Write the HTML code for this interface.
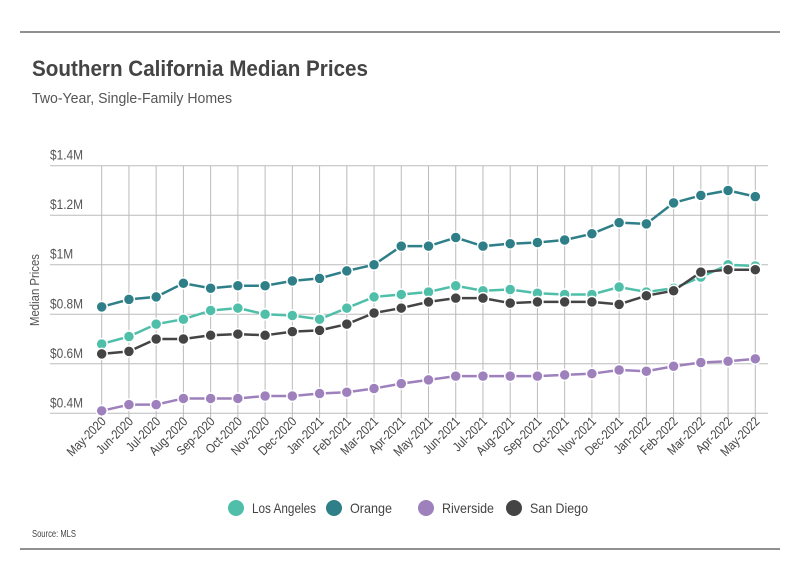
<!DOCTYPE html>
<html><head><meta charset="utf-8"><style>
body{margin:0;background:#fff;width:800px;height:575px;overflow:hidden;font-family:"Liberation Sans",sans-serif;}
svg{display:block}
</style></head><body>
<svg id="chart" width="800" height="575">
<line x1="20" y1="32" x2="780" y2="32" stroke="#222" stroke-width="1"/>
<line x1="20" y1="549" x2="780" y2="549" stroke="#222" stroke-width="1"/>
<text x="32" y="76" font-size="22" font-weight="bold" fill="#444" textLength="336" lengthAdjust="spacingAndGlyphs">Southern California Median Prices</text>
<text x="32" y="103" font-size="15" fill="#555" textLength="200" lengthAdjust="spacingAndGlyphs">Two-Year, Single-Family Homes</text>
<text transform="translate(39,290) rotate(-90)" text-anchor="middle" font-size="13" fill="#555" textLength="72" lengthAdjust="spacingAndGlyphs">Median Prices</text>
<text x="32" y="537" font-size="10" fill="#444" textLength="44" lengthAdjust="spacingAndGlyphs">Source:  MLS</text>
<g id="grid"></g><g id="series"></g><g id="legend"></g>
</svg>
<script>
const categories=["May-2020","Jun-2020","Jul-2020","Aug-2020","Sep-2020","Oct-2020","Nov-2020","Dec-2020","Jan-2021","Feb-2021","Mar-2021","Apr-2021","May-2021","Jun-2021","Jul-2021","Aug-2021","Sep-2021","Oct-2021","Nov-2021","Dec-2021","Jan-2022","Feb-2022","Mar-2022","Apr-2022","May-2022"];
const losAngeles=[0.68,0.71,0.76,0.78,0.815,0.825,0.80,0.795,0.78,0.825,0.87,0.88,0.89,0.915,0.895,0.90,0.885,0.88,0.88,0.91,0.89,0.905,0.95,1.0,0.995];
const orange=[0.83,0.86,0.87,0.925,0.905,0.915,0.915,0.935,0.945,0.975,1.0,1.075,1.075,1.11,1.075,1.085,1.09,1.1,1.125,1.17,1.165,1.25,1.28,1.30,1.275];
const riverside=[0.41,0.435,0.435,0.46,0.46,0.46,0.47,0.47,0.48,0.485,0.50,0.52,0.535,0.55,0.55,0.55,0.55,0.555,0.56,0.575,0.57,0.59,0.605,0.61,0.62];
const sanDiego=[0.64,0.65,0.70,0.70,0.715,0.72,0.715,0.73,0.735,0.76,0.805,0.825,0.85,0.865,0.865,0.845,0.85,0.85,0.85,0.84,0.875,0.895,0.97,0.98,0.98];
const yTicks=[0.4,0.6,0.8,1.0,1.2,1.4];
const yTickLabels=["$0.4M","$0.6M","$0.8M","$1M","$1.2M","$1.4M"];
const seriesNames=["Los Angeles","Orange","Riverside","San Diego"];
const NS="http://www.w3.org/2000/svg";
const x0=101.7,x1=755.3,yTop=165.7,yBot=413.3,vMin=0.4,vMax=1.4;
const xs=i=>x0+(x1-x0)*i/(categories.length-1);
const ys=v=>yBot-(v-vMin)/(vMax-vMin)*(yBot-yTop);
function mk(tag,attrs,parent){const e=document.createElementNS(NS,tag);for(const k in attrs)e.setAttribute(k,attrs[k]);parent.appendChild(e);return e;}
const grid=document.getElementById('grid');
yTicks.forEach((t,i)=>{
 const l=mk('line',{x1:50,x2:768,y1:ys(t),y2:ys(t),stroke:'#bbb','stroke-width':1},grid);
 
 
 const tx=mk('text',{transform:`translate(50,${ys(t)-6}) scale(0.85,1)`,'font-size':14,fill:'#555'},grid);
 tx.textContent=yTickLabels[i];
 
 
});
categories.forEach((c,i)=>{
 const l=mk('line',{x1:xs(i),x2:xs(i),y1:yTop,y2:yBot+5,stroke:'#bbb','stroke-width':1},grid);
 
 
 const tx=mk('text',{transform:`translate(${xs(i)+5},${yBot+9}) rotate(-45) scale(0.85,1)`,'text-anchor':'end','font-size':13,fill:'#444'},grid);
 tx.textContent=c;
 
 
});
const colors=["#4fbfa9","#2e7f88","#9d80bc","#444444"];
const data=[losAngeles,orange,riverside,sanDiego];
const sg=document.getElementById('series');
[1,0,3,2].forEach(si=>{
 const g=mk('g',{},sg);
 
 
 const pts=data[si].map((v,i)=>xs(i)+','+ys(v)).join(' ');
 const pl=mk('polyline',{points:pts,fill:'none',stroke:colors[si],'stroke-width':2.5},g);
 
 
 data[si].forEach((v,i)=>{
  const c=mk('circle',{cx:xs(i),cy:ys(v),r:5.5,fill:colors[si],stroke:'#fff','stroke-width':1.5},g);
  
  
 });
});
const lg=document.getElementById('legend');
const lx=[236,334,426,514];
const lw=[64,42,52,58];
seriesNames.forEach((n,i)=>{
 const g=mk('g',{},lg);
 
 
 mk('circle',{cx:lx[i],cy:508,r:8,fill:colors[i]},g);
 const t=mk('text',{x:lx[i]+16,y:513,'font-size':14,fill:'#444',textLength:lw[i],lengthAdjust:'spacingAndGlyphs'},g);
 t.textContent=n;
});
</script>
</body></html>
